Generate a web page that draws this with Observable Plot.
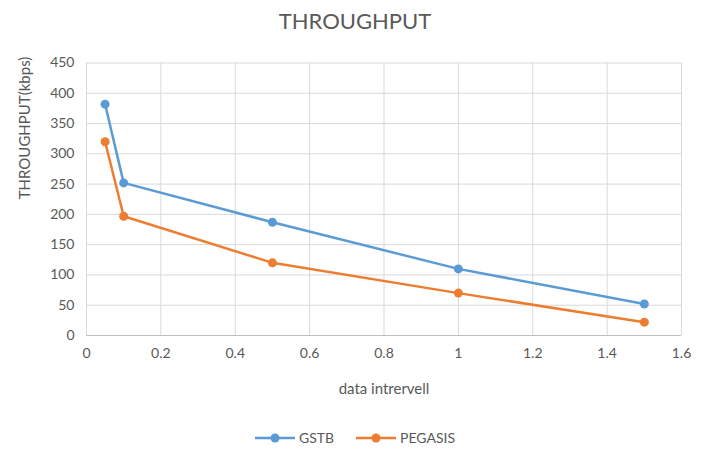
<!DOCTYPE html>
<html>
<head>
<meta charset="utf-8">
<script src="https://cdn.jsdelivr.net/npm/d3@7"></script>
<script src="https://cdn.jsdelivr.net/npm/@observablehq/plot@0.6"></script>
<style>
  body { margin: 0; background: #fff; font-family: Lato, "Open Sans", sans-serif; }
  #wrap { width: 710px; }
  #title { height: 45px; line-height: 42px; text-align: center; font-size: 22px; color: #595959; }
  #legend { height: 49px; box-sizing: border-box; padding-bottom: 3px; display: flex; justify-content: center; align-items: flex-end; gap: 22px; font-size: 14px; color: #595959; }
  .item { display: flex; align-items: center; gap: 4px; }
</style>
</head>
<body>
<div id="wrap">
  <div id="title">THROUGHPUT</div>
  <div id="chart"></div>
  <div id="legend"></div>
</div>
<script>
const intervals = [0.05, 0.1, 0.5, 1, 1.5];
const gstb = [382, 252, 187, 110, 52];
const pegasis = [320, 197, 120, 70, 22];
const seriesNames = ["GSTB", "PEGASIS"];
const colors = ["#5B9BD5", "#ED7D31"];
const xTicks = [0, 0.2, 0.4, 0.6, 0.8, 1, 1.2, 1.4, 1.6];
const yTicks = [0, 50, 100, 150, 200, 250, 300, 350, 400, 450];

const data = [];
[gstb, pegasis].forEach((vals, i) => {
  vals.forEach((v, j) => data.push({series: seriesNames[i], x: intervals[j], y: v}));
});

const chart = Plot.plot({
  width: 710,
  height: 355,
  marginTop: 17.5,
  marginBottom: 65,
  marginLeft: 86,
  marginRight: 29,
  style: { fontFamily: "Lato, 'Open Sans', sans-serif", fontSize: "14px", color: "#595959", background: "#fff" },
  x: { domain: [0, 1.6], ticks: xTicks, label: null },
  y: { domain: [0, 450], ticks: yTicks, label: null },
  color: { domain: seriesNames, range: colors },
  marks: [
    Plot.gridX(xTicks, { stroke: "#d9d9d9", strokeOpacity: 1, strokeWidth: 1 }),
    Plot.gridY(yTicks, { stroke: "#d9d9d9", strokeOpacity: 1, strokeWidth: 1 }),
    Plot.ruleY([0], { stroke: "#bfbfbf", strokeWidth: 1 }),
    Plot.axisX(xTicks, { tickSize: 0, tickPadding: 13, fontSize: 14, fill: "#595959",
      tickFormat: d => String(d) }),
    Plot.axisY(yTicks, { tickSize: 0, tickPadding: 12, fontSize: 14, fill: "#595959" }),
    Plot.text(["data intrervell"], { frameAnchor: "bottom", dy: 54, lineAnchor: "middle", fontSize: 15, fill: "#595959" }),
    Plot.text(["THROUGHPUT(kbps)"], { frameAnchor: "left", dx: -61, rotate: -90, fontSize: 15, fill: "#595959" }),
    Plot.line(data, { x: "x", y: "y", stroke: "series", strokeWidth: 2.5 }),
    Plot.dot(data, { x: "x", y: "y", fill: "series", r: 4.5 })
  ]
});
document.getElementById("chart").appendChild(chart);

const legend = document.getElementById("legend");
seriesNames.forEach((name, i) => {
  const item = document.createElement("div");
  item.className = "item";
  item.innerHTML = `<svg width="40" height="12"><line x1="0" y1="6" x2="40" y2="6" stroke="${colors[i]}" stroke-width="2.5"/><circle cx="20" cy="6" r="4.5" fill="${colors[i]}"/></svg><span>${name}</span>`;
  legend.appendChild(item);
});
</script>
</body>
</html>
